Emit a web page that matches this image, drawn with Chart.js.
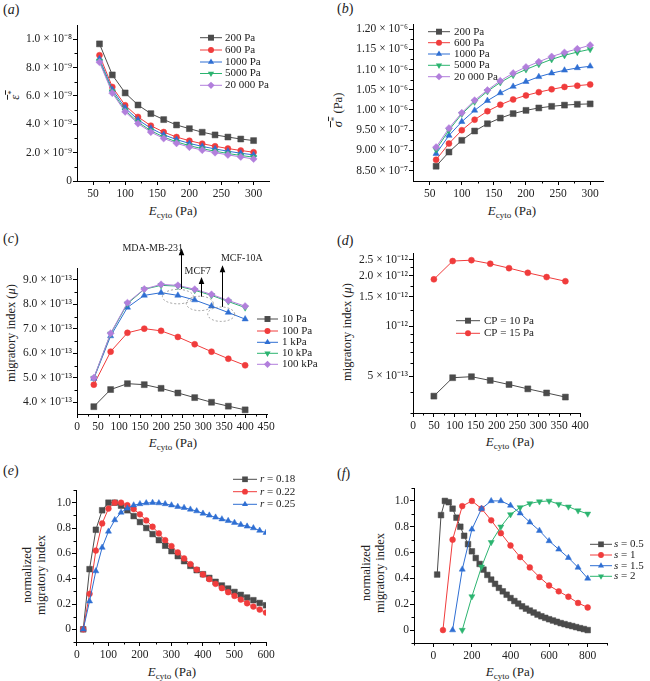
<!DOCTYPE html>
<html>
<head>
<meta charset="utf-8">
<title>Migratory index figure</title>
<script src="https://cdn.jsdelivr.net/npm/chart.js@4.4.1/dist/chart.umd.min.js"></script>
<style>
  body { margin: 0; background: #fff; }
  #fig { position: relative; width: 650px; height: 681px; overflow: hidden; background: #fff;
         font-family: "Liberation Serif", "Times New Roman", Times, serif; color: #222; }
  #fig canvas { position: absolute; }
  .tag { position: absolute; font-size: 14px; line-height: 16px; }
  .xt { position: absolute; font-size: 13px; line-height: 16px; transform: translateX(-50%); white-space: nowrap; }
  .yt { position: absolute; font-size: 12.5px; line-height: 14px; transform: translate(-50%, -50%) rotate(-90deg);
        white-space: nowrap; text-align: center; }
  sub { font-size: 9px; vertical-align: -3px; line-height: 0; }
  sup { font-size: 9px; vertical-align: 5px; line-height: 0; }
  .ov { text-decoration: overline; }
</style>
</head>
<body>
<div id="fig">
  <div class="tag" style="left:3px;top:2px">(<i>a</i>)</div>
  <div class="tag" style="left:337px;top:1px">(<i>b</i>)</div>
  <div class="tag" style="left:3px;top:231px">(<i>c</i>)</div>
  <div class="tag" style="left:337px;top:233px">(<i>d</i>)</div>
  <div class="tag" style="left:3px;top:463px">(<i>e</i>)</div>
  <div class="tag" style="left:337px;top:466px">(<i>f</i>)</div>

  <div class="xt" style="left:173px;top:203px"><i>E</i><sub>cyto</sub> (Pa)</div>
  <div class="xt" style="left:512px;top:203px"><i>E</i><sub>cyto</sub> (Pa)</div>
  <div class="xt" style="left:173px;top:435px"><i>E</i><sub>cyto</sub> (Pa)</div>
  <div class="xt" style="left:510px;top:434px"><i>E</i><sub>cyto</sub> (Pa)</div>
  <div class="xt" style="left:172px;top:664px"><i>E</i><sub>cyto</sub> (Pa)</div>
  <div class="xt" style="left:510px;top:664px"><i>E</i><sub>cyto</sub> (Pa)</div>

  <div class="yt" style="left:15px;top:95px"><span class="ov"><i>ε</i><sup>*</sup></span></div>
  <div class="yt" style="left:338px;top:110px"><span class="ov"><i>σ</i><sup>*</sup></span> (Pa)</div>
  <div class="yt" style="left:11px;top:333px">migratory index (<i>μ</i>)</div>
  <div class="yt" style="left:347px;top:332px">migratory index (<i>μ</i>)</div>
  <div class="yt" style="left:34px;top:575px">normalized<br>migratory index</div>
  <div class="yt" style="left:373px;top:573px">normalized<br>migratory index</div>
</div>

<script>
// ---------- data ----------

// (a) mean strain, in units of 1e-9
const aX = [60, 80, 100, 120, 140, 160, 180, 200, 220, 240, 260, 280, 300];
const aNames = ['200 Pa', '600 Pa', '1000 Pa', '5000 Pa', '20 000 Pa'];
const a200 = [9.67, 7.48, 6.21, 5.36, 4.75, 4.33, 3.95, 3.69, 3.44, 3.25, 3.10, 2.96, 2.85];
const a600 = [8.87, 6.63, 5.34, 4.52, 3.90, 3.45, 3.10, 2.84, 2.63, 2.45, 2.29, 2.15, 2.03];
const a1000 = [8.62, 6.45, 5.15, 4.32, 3.72, 3.26, 2.92, 2.65, 2.44, 2.26, 2.10, 1.96, 1.84];
const a5000 = [8.47, 6.30, 4.98, 4.15, 3.55, 3.10, 2.76, 2.49, 2.28, 2.10, 1.94, 1.80, 1.68];
const a20000 = [8.38, 6.20, 4.88, 4.05, 3.45, 3.00, 2.66, 2.39, 2.18, 2.00, 1.84, 1.70, 1.55];
const aYTicks = [0, 2, 4, 6, 8, 10];
const aYLabels = ['0', '2.0 × 10⁻⁹', '4.0 × 10⁻⁹', '6.0 × 10⁻⁹', '8.0 × 10⁻⁹', '1.0 × 10⁻⁸'];

// (b) mean stress, in units of 1e-6 Pa
const bX = [60, 80, 100, 120, 140, 160, 180, 200, 220, 240, 260, 280, 300];
const bNames = ['200 Pa', '600 Pa', '1000 Pa', '5000 Pa', '20 000 Pa'];
const b200 = [0.861, 0.896, 0.925, 0.948, 0.966, 0.980, 0.991, 0.999, 1.005, 1.009, 1.012, 1.014, 1.015];
const b600 = [0.877, 0.917, 0.950, 0.976, 0.997, 1.013, 1.026, 1.036, 1.044, 1.051, 1.057, 1.060, 1.063];
const b1000 = [0.892, 0.937, 0.971, 0.999, 1.023, 1.042, 1.058, 1.070, 1.082, 1.091, 1.098, 1.104, 1.108];
const b5000 = [0.902, 0.950, 0.990, 1.020, 1.046, 1.068, 1.086, 1.100, 1.113, 1.125, 1.135, 1.143, 1.150];
const b20000 = [0.908, 0.955, 0.993, 1.024, 1.049, 1.072, 1.091, 1.106, 1.119, 1.132, 1.142, 1.151, 1.160];
const bYTicks = [0.85, 0.90, 0.95, 1.00, 1.05, 1.10, 1.15, 1.20];
const bYLabels = ['8.50 × 10⁻⁷', '9.00 × 10⁻⁷', '9.50 × 10⁻⁷', '1.00 × 10⁻⁶',
                  '1.05 × 10⁻⁶', '1.10 × 10⁻⁶', '1.15 × 10⁻⁶', '1.20 × 10⁻⁶'];

// (c) migratory index, in units of 1e-13
const cX = [40, 80, 120, 160, 200, 240, 280, 320, 360, 400];
const cNames = ['10 Pa', '100 Pa', '1 kPa', '10 kPa', '100 kPa'];
const c10 = [3.82, 4.52, 4.76, 4.72, 4.57, 4.38, 4.19, 4.00, 3.84, 3.69];
const c100 = [4.72, 6.07, 6.84, 7.01, 6.92, 6.67, 6.37, 6.07, 5.78, 5.51];
const c1k = [4.97, 6.71, 7.88, 8.37, 8.48, 8.37, 8.18, 7.93, 7.67, 7.40];
const c10k = [4.99, 6.80, 8.03, 8.62, 8.78, 8.75, 8.58, 8.37, 8.12, 7.87];
const c100k = [5.00, 6.82, 8.07, 8.63, 8.82, 8.78, 8.62, 8.41, 8.16, 7.93];
const cYTicks = [4, 5, 6, 7, 8, 9];
const cYLabels = ['4.0 × 10⁻¹³', '5.0 × 10⁻¹³', '6.0 × 10⁻¹³', '7.0 × 10⁻¹³', '8.0 × 10⁻¹³', '9.0 × 10⁻¹³'];
const cCells = ['MDA-MB-231', 'MCF7', 'MCF-10A'];
const cCellX = [180, 287, 392];
const cCellY = [10.3, 9.37, 9.89];
const cArrowX = [248, 296, 345];
const cArrowFrom = [8.63, 8.32, 7.9];
const cArrowTo = [10.3, 9.12, 9.6];
const cRingX = [240, 292, 343];
const cRingY = [8.32, 8.04, 7.6];

// (d) migratory index (log axis), in units of 1e-13
const dX = [50, 95, 140, 185, 230, 275, 320, 365];
const dNames = ['CP = 10 Pa', 'CP = 15 Pa'];
const d10 = [3.79, 4.89, 4.96, 4.71, 4.45, 4.19, 3.96, 3.74];
const d15 = [19.1, 24.6, 24.9, 23.7, 22.3, 20.9, 19.7, 18.6];
const dYTicks = [5, 10, 15, 20, 25];
const dYLabels = ['5 × 10⁻¹³', '10⁻¹²', '1.5 × 10⁻¹²', '2.0 × 10⁻¹²', '2.5 × 10⁻¹²'];

// (e) normalized migratory index for three r
const eX = [20, 40, 60, 80, 100, 120, 140, 160, 180, 200, 220, 240, 260, 280, 300,
            320, 340, 360, 380, 400, 420, 440, 460, 480, 500, 520, 540, 560, 580, 600];
const eNames = ['0.18', '0.22', '0.25'];
const e18 = [0, 0.475, 0.786, 0.94, 1.0, 1.0, 0.976, 0.94, 0.894, 0.847, 0.80, 0.752, 0.704, 0.66, 0.617,
             0.578, 0.538, 0.501, 0.467, 0.435, 0.406, 0.375, 0.346, 0.322, 0.295, 0.272, 0.251, 0.23, 0.208, 0.19];
const e22 = [0, 0.28, 0.622, 0.836, 0.953, 1.0, 1.0, 0.98, 0.95, 0.908, 0.86, 0.81, 0.757, 0.704, 0.657,
             0.607, 0.56, 0.515, 0.472, 0.433, 0.396, 0.359, 0.325, 0.293, 0.264, 0.235, 0.206, 0.18, 0.156, 0.132];
const e25 = [0, 0.222, 0.46, 0.646, 0.773, 0.863, 0.923, 0.955, 0.98, 0.99, 0.997, 1.0, 0.997, 0.99, 0.98,
             0.968, 0.96, 0.947, 0.934, 0.915, 0.9, 0.884, 0.87, 0.857, 0.842, 0.826, 0.813, 0.8, 0.78, 0.763];

// (f) normalized migratory index for four s
const fX05 = [20, 40, 60, 80, 100, 120, 140, 160, 180, 200, 220, 240, 260, 280, 300, 320, 340, 360, 380, 400,
              420, 440, 460, 480, 500, 520, 540, 560, 580, 600, 620, 640, 660, 680, 700, 720, 740, 760, 780, 800];
const fX1 = [50, 100, 150, 200, 250, 300, 350, 400, 450, 500, 550, 600, 650, 700, 750, 800];
const fX15 = [100, 150, 200, 250, 300, 350, 400, 450, 500, 550, 600, 650, 700, 750, 800];
const fX2 = [150, 200, 250, 300, 350, 400, 450, 500, 550, 600, 650, 700, 750, 800];
const fNames = ['0.5', '1', '1.5', '2'];
const f05 = [0.43, 0.89, 1.0, 0.99, 0.94, 0.87, 0.80, 0.73, 0.665, 0.61, 0.558, 0.512, 0.468, 0.427, 0.391,
             0.358, 0.327, 0.30, 0.274, 0.248, 0.225, 0.205, 0.184, 0.166, 0.151, 0.136, 0.12, 0.107, 0.095,
             0.084, 0.074, 0.064, 0.054, 0.046, 0.038, 0.031, 0.023, 0.015, 0.008, 0.0];
const f1 = [0, 0.70, 0.96, 1.0, 0.94, 0.85, 0.75, 0.655, 0.565, 0.485, 0.41, 0.345, 0.30, 0.258, 0.21, 0.175];
const f15 = [0, 0.47, 0.78, 0.94, 1.0, 1.0, 0.965, 0.905, 0.835, 0.77, 0.69, 0.625, 0.56, 0.485, 0.40];
const f2 = [0, 0.26, 0.49, 0.68, 0.80, 0.895, 0.95, 0.98, 0.995, 1.0, 0.975, 0.955, 0.925, 0.90];

const normTicks = [0, 0.2, 0.4, 0.6, 0.8, 1.0];
const normLabels = ['0', '0.2', '0.4', '0.6', '0.8', '1.0'];

// ---------- drawing ----------
const SERIF = '"Liberation Serif", "Times New Roman", Times, serif';
Chart.defaults.font.family = SERIF;
Chart.defaults.font.size = 11.5;
Chart.defaults.color = '#222';

const GRAY = '#4b4b4b', RED = '#f03c3c', BLUE = '#2f6fd3', GREEN = '#2cb470', PURPLE = '#b27fdc';
const fig = document.getElementById('fig');

function drawMarker(ctx, style, x, y, r, rot) {
    ctx.beginPath();
    if (style === 'circle') {
        ctx.arc(x, y, r, 0, Math.PI * 2);
    } else if (style === 'rect') {
        const s = r * Math.SQRT1_2;
        ctx.rect(x - s, y - s, 2 * s, 2 * s);
    } else if (style === 'rectRot') {
        ctx.moveTo(x, y - r); ctx.lineTo(x + r, y); ctx.lineTo(x, y + r); ctx.lineTo(x - r, y);
        ctx.closePath();
    } else {
        let a = (rot || 0) * Math.PI / 180;
        for (let k = 0; k < 3; k++) {
            const px = x + Math.sin(a) * r, py = y - Math.cos(a) * r;
            if (k) ctx.lineTo(px, py); else ctx.moveTo(px, py);
            a += 2 * Math.PI / 3;
        }
        ctx.closePath();
    }
    ctx.fill();
}

function makePanel(p) {
    const [bx, by, bw, bh] = p.box;
    const [L, T, R, B] = p.plot;
    const cv = document.createElement('canvas');
    cv.width = bw; cv.height = bh;
    cv.style.left = bx + 'px'; cv.style.top = by + 'px';
    fig.appendChild(cv);

    const n = p.series.length;
    const datasets = p.series.map((s, i) => ({
        label: s.name,
        data: s.x.map((x, j) => ({ x: x, y: s.y[j] })),
        borderColor: s.color,
        backgroundColor: s.color,
        borderWidth: 1,
        pointStyle: s.marker,
        pointRadius: s.r,
        pointRotation: s.rot || 0,
        pointBorderWidth: 0.5,
        pointBorderColor: s.color,
        order: n - i
    }));

    const label = (ax) => (v) => {
        const i = ax.ticks.indexOf(v);
        return i >= 0 ? ax.labels[i] : '';
    };

    const figPlugin = {
        id: 'fig',
        afterDatasetsDraw(chart) {
            if (p.notes) p.notes(chart);
        },
        afterDraw(chart) {
            const ctx = chart.ctx, xs = chart.scales.x, ys = chart.scales.y, ca = chart.chartArea;
            ctx.save();
            // minor ticks
            ctx.strokeStyle = '#000';
            ctx.lineWidth = 1;
            ctx.beginPath();
            (p.x.minor || []).forEach(v => {
                const px = Math.round(xs.getPixelForValue(v)) + 0.5;
                ctx.moveTo(px, ca.bottom); ctx.lineTo(px, ca.bottom + 2.5);
            });
            (p.y.minor || []).forEach(v => {
                const py = Math.round(ys.getPixelForValue(v)) + 0.5;
                ctx.moveTo(ca.left, py); ctx.lineTo(ca.left - 2.5, py);
            });
            ctx.stroke();
            // legend: line + marker + text
            const lg = p.legend;
            ctx.font = '11px ' + SERIF;
            ctx.textBaseline = 'middle';
            p.series.forEach((s, i) => {
                const y = lg.ys[i] - by, x0 = lg.x0 - bx, x1 = lg.x1 - bx;
                ctx.strokeStyle = s.color; ctx.fillStyle = s.color; ctx.lineWidth = 1;
                ctx.beginPath(); ctx.moveTo(x0, y); ctx.lineTo(x1, y); ctx.stroke();
                drawMarker(ctx, s.marker, (x0 + x1) / 2, y, s.r, s.rot);
                ctx.fillStyle = '#222';
                let tx = lg.tx - bx;
                if (lg.sym) {
                    ctx.font = 'italic 11px ' + SERIF;
                    ctx.fillText(lg.sym, tx, y);
                    tx += ctx.measureText(lg.sym).width;
                    ctx.font = '11px ' + SERIF;
                    ctx.fillText(' = ' + s.name, tx, y);
                } else {
                    ctx.fillText(s.name, tx, y);
                }
            });
            ctx.restore();
        }
    };

    const axis = (ax, isX) => ({
        type: ax.type || 'linear',
        bounds: 'data',
        min: ax.min, max: ax.max,
        afterBuildTicks: s => { s.ticks = ax.ticks.map(v => ({ value: v })); },
        afterFit: s => { if (isX) s.height = by + bh - B; else s.width = L - bx; },
        ticks: {
            callback: label(ax),
            autoSkip: false, maxRotation: 0, includeBounds: false,
            padding: isX ? 2 : 1, color: '#222', font: { size: 11.5 }
        },
        grid: { drawOnChartArea: false, drawTicks: true, tickLength: 4, color: '#000', tickColor: '#000', lineWidth: 1 },
        border: { display: true, color: '#000', width: 1 }
    });

    return new Chart(cv, {
        type: 'line',
        data: { datasets: datasets },
        options: {
            animation: false,
            responsive: false,
            events: [],
            layout: { padding: { top: T - by, right: bx + bw - R, left: 0, bottom: 0 } },
            plugins: { legend: { display: false }, tooltip: { enabled: false } },
            scales: { x: axis(p.x, true), y: axis(p.y, false) }
        },
        plugins: [figPlugin]
    });
}

// (a)
makePanel({
    box: [0, 0, 325, 225], plot: [77, 25, 269, 181],
    x: { min: 25, max: 324, ticks: [50, 100, 150, 200, 250, 300], labels: ['50', '100', '150', '200', '250', '300'],
         minor: [75, 125, 175, 225, 275] },
    y: { min: 0, max: 11, ticks: aYTicks, labels: aYLabels, minor: [1, 3, 5, 7, 9] },
    series: [
        { name: aNames[0], x: aX, y: a200, color: GRAY, marker: 'rect', r: 4.2 },
        { name: aNames[1], x: aX, y: a600, color: RED, marker: 'circle', r: 3 },
        { name: aNames[2], x: aX, y: a1000, color: BLUE, marker: 'triangle', r: 3.6 },
        { name: aNames[3], x: aX, y: a5000, color: GREEN, marker: 'triangle', r: 3.6, rot: 180 },
        { name: aNames[4], x: aX, y: a20000, color: PURPLE, marker: 'rectRot', r: 3.6 }
    ],
    legend: { x0: 200, x1: 222, tx: 225, ys: [37.7, 50, 62, 73.5, 85.3] }
});

// (b)
makePanel({
    box: [325, 0, 325, 225], plot: [413, 24, 603, 181],
    x: { min: 24, max: 320, ticks: [50, 100, 150, 200, 250, 300], labels: ['50', '100', '150', '200', '250', '300'],
         minor: [75, 125, 175, 225, 275] },
    y: { min: 0.8245, max: 1.2124, ticks: bYTicks, labels: bYLabels, minor: [0.875, 0.925, 0.975, 1.025, 1.075, 1.125, 1.175] },
    series: [
        { name: bNames[0], x: bX, y: b200, color: GRAY, marker: 'rect', r: 4.2 },
        { name: bNames[1], x: bX, y: b600, color: RED, marker: 'circle', r: 3 },
        { name: bNames[2], x: bX, y: b1000, color: BLUE, marker: 'triangle', r: 3.6 },
        { name: bNames[3], x: bX, y: b5000, color: GREEN, marker: 'triangle', r: 3.6, rot: 180 },
        { name: bNames[4], x: bX, y: b20000, color: PURPLE, marker: 'rectRot', r: 3.6 }
    ],
    legend: { x0: 428, x1: 450, tx: 454, ys: [31.7, 42.7, 54, 65.3, 76.7] }
});

// (c) with cell-line call-outs
makePanel({
    box: [0, 228, 325, 226], plot: [77, 268, 267, 414],
    x: { min: 0, max: 452, ticks: [0, 50, 100, 150, 200, 250, 300, 350, 400, 450],
         labels: ['0', '50', '100', '150', '200', '250', '300', '350', '400', '450'],
         minor: [25, 75, 125, 175, 225, 275, 325, 375, 425] },
    y: { min: 3.52, max: 9.49, ticks: cYTicks, labels: cYLabels, minor: [4.5, 5.5, 6.5, 7.5, 8.5] },
    series: [
        { name: cNames[0], x: cX, y: c10, color: GRAY, marker: 'rect', r: 4.2 },
        { name: cNames[1], x: cX, y: c100, color: RED, marker: 'circle', r: 3 },
        { name: cNames[2], x: cX, y: c1k, color: BLUE, marker: 'triangle', r: 3.6 },
        { name: cNames[3], x: cX, y: c10k, color: GREEN, marker: 'triangle', r: 3.6, rot: 180 },
        { name: cNames[4], x: cX, y: c100k, color: PURPLE, marker: 'rectRot', r: 3.6 }
    ],
    legend: { x0: 257, x1: 278, tx: 282, ys: [319, 331, 342.3, 353.3, 364.3] },
    notes: (chart) => {
        const ctx = chart.ctx, xs = chart.scales.x, ys = chart.scales.y;
        ctx.save();
        // dashed rings
        ctx.strokeStyle = '#8a8a8a';
        ctx.lineWidth = 0.8;
        ctx.setLineDash([2, 2]);
        cRingX.forEach((x, i) => {
            const cx = xs.getPixelForValue(x), cy = ys.getPixelForValue(cRingY[i]);
            const rx = i === 0 ? 15.5 : 13.5, ry = 7.2;
            ctx.beginPath(); ctx.ellipse(cx, cy, rx, ry, 0, 0, Math.PI * 2); ctx.stroke();
        });
        ctx.setLineDash([]);
        // arrows
        ctx.strokeStyle = '#000'; ctx.fillStyle = '#000'; ctx.lineWidth = 1;
        cArrowX.forEach((x, i) => {
            const px = Math.round(xs.getPixelForValue(x)) + 0.5;
            const y0 = ys.getPixelForValue(cArrowFrom[i]), y1 = ys.getPixelForValue(cArrowTo[i]);
            ctx.beginPath(); ctx.moveTo(px, y0); ctx.lineTo(px, y1 + 5); ctx.stroke();
            ctx.beginPath(); ctx.moveTo(px, y1); ctx.lineTo(px - 2.8, y1 + 7); ctx.lineTo(px + 2.8, y1 + 7);
            ctx.closePath(); ctx.fill();
        });
        // labels
        ctx.fillStyle = '#222';
        ctx.font = '10px ' + SERIF;
        ctx.textAlign = 'center';
        ctx.textBaseline = 'middle';
        cCells.forEach((t, i) => {
            ctx.fillText(t, xs.getPixelForValue(cCellX[i]), ys.getPixelForValue(cCellY[i]));
        });
        ctx.restore();
    }
});

// (d) log axis
makePanel({
    box: [325, 228, 325, 226], plot: [413, 253, 580, 413],
    x: { min: 0, max: 400, ticks: [0, 50, 100, 150, 200, 250, 300, 350, 400],
         labels: ['0', '50', '100', '150', '200', '250', '300', '350', '400'],
         minor: [25, 75, 125, 175, 225, 275, 325, 375] },
    y: { type: 'logarithmic', min: 3.0, max: 27.5, ticks: dYTicks, labels: dYLabels,
         minor: [3, 4, 6, 7, 8, 9, 12.5, 17.5, 22.5] },
    series: [
        { name: dNames[0], x: dX, y: d10, color: GRAY, marker: 'rect', r: 4.2 },
        { name: dNames[1], x: dX, y: d15, color: RED, marker: 'circle', r: 3 }
    ],
    legend: { x0: 456, x1: 480, tx: 484, ys: [320.7, 333.3] }
});

// (e)
makePanel({
    box: [0, 455, 325, 226], plot: [76, 490, 266, 642],
    x: { min: -3, max: 600, ticks: [0, 100, 200, 300, 400, 500, 600],
         labels: ['0', '100', '200', '300', '400', '500', '600'], minor: [50, 150, 250, 350, 450, 550] },
    y: { min: -0.1, max: 1.1, ticks: normTicks, labels: normLabels, minor: [-0.1, 0.1, 0.3, 0.5, 0.7, 0.9, 1.1] },
    series: [
        { name: eNames[0], x: eX, y: e18, color: GRAY, marker: 'rect', r: 4 },
        { name: eNames[1], x: eX, y: e22, color: RED, marker: 'circle', r: 2.9 },
        { name: eNames[2], x: eX, y: e25, color: BLUE, marker: 'triangle', r: 3.5 }
    ],
    legend: { x0: 233, x1: 257, tx: 260, sym: 'r', ys: [479.3, 491.7, 504.3] }
});

// (f)
makePanel({
    box: [325, 455, 325, 226], plot: [414, 488, 607, 643],
    x: { min: -100, max: 900, ticks: [0, 200, 400, 600, 800],
         labels: ['0', '200', '400', '600', '800'], minor: [-100, 100, 300, 500, 700, 900] },
    y: { min: -0.1, max: 1.1, ticks: normTicks, labels: normLabels, minor: [-0.1, 0.1, 0.3, 0.5, 0.7, 0.9, 1.1] },
    series: [
        { name: fNames[0], x: fX05, y: f05, color: GRAY, marker: 'rect', r: 4 },
        { name: fNames[1], x: fX1, y: f1, color: RED, marker: 'circle', r: 2.9 },
        { name: fNames[2], x: fX15, y: f15, color: BLUE, marker: 'triangle', r: 3.5 },
        { name: fNames[3], x: fX2, y: f2, color: GREEN, marker: 'triangle', r: 3.5, rot: 180 }
    ],
    legend: { x0: 590, x1: 612, tx: 614, sym: 's', ys: [544.3, 555, 565.7, 576.3] }
});
</script>
</body>
</html>
